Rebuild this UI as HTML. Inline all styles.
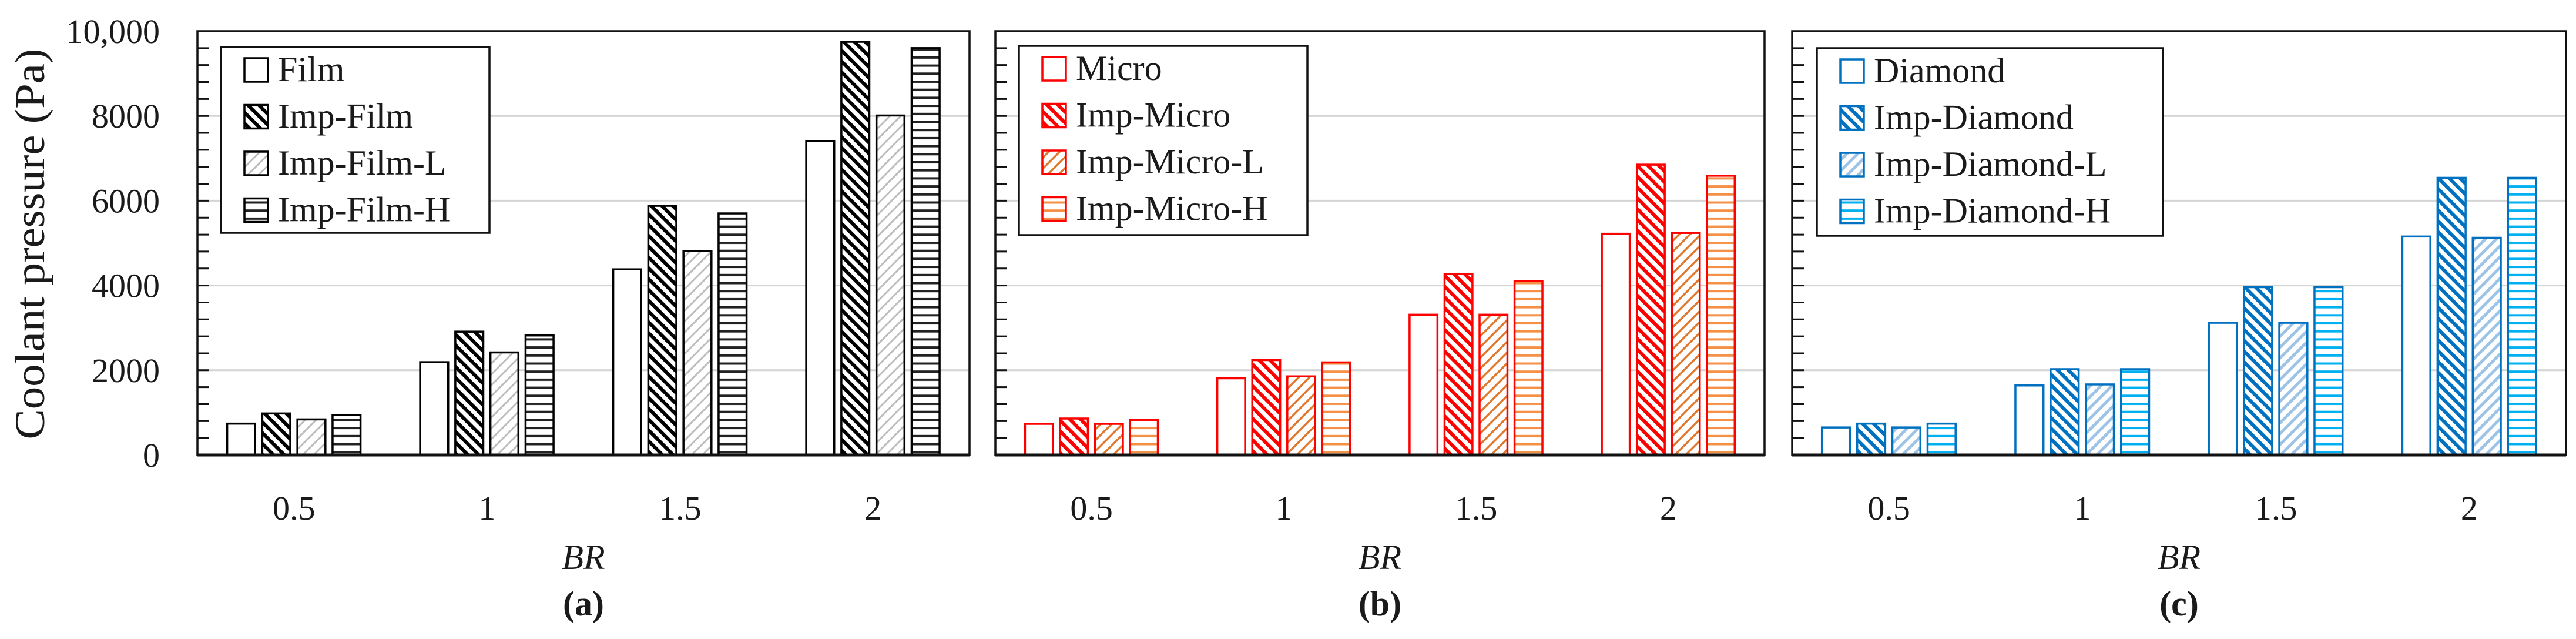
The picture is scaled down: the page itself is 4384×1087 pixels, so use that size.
<!DOCTYPE html>
<html><head><meta charset="utf-8"><style>
html,body{margin:0;padding:0;background:#fff;}
svg{display:block;}
text{font-family:"Liberation Serif",serif;fill:#1a1a1a;}
</style></head><body>
<svg id="chart" width="4384" height="1087" viewBox="0 0 4384 1087" xmlns="http://www.w3.org/2000/svg">
<defs>
  <pattern id="hatchK" patternUnits="userSpaceOnUse" width="13" height="13" patternTransform="rotate(-45)"><rect width="13" height="13" fill="#fff"/><rect width="6" height="13" fill="#000"/></pattern>
  <pattern id="lightK" patternUnits="userSpaceOnUse" width="13" height="13" patternTransform="rotate(45)"><rect width="13" height="13" fill="#fff"/><rect width="3" height="13" fill="#bdbdbd"/></pattern>
  <pattern id="horK" patternUnits="userSpaceOnUse" width="13" height="13.7"><rect width="13" height="13.7" fill="#fff"/><rect y="0" width="13" height="4" fill="#222"/></pattern>
  <pattern id="hatchR" patternUnits="userSpaceOnUse" width="13" height="13" patternTransform="rotate(-45)"><rect width="13" height="13" fill="#fff"/><rect width="6" height="13" fill="#ff0000"/></pattern>
  <pattern id="lightR" patternUnits="userSpaceOnUse" width="13" height="13" patternTransform="rotate(45)"><rect width="13" height="13" fill="#fff"/><rect width="3.5" height="13" fill="#e0782e"/></pattern>
  <pattern id="horR" patternUnits="userSpaceOnUse" width="13" height="13.7"><rect width="13" height="13.7" fill="#fff"/><rect width="13" height="4" fill="#f59047"/></pattern>
  <pattern id="hatchB" patternUnits="userSpaceOnUse" width="13" height="13" patternTransform="rotate(-45)"><rect width="13" height="13" fill="#fff"/><rect width="6" height="13" fill="#0070c0"/></pattern>
  <pattern id="lightB" patternUnits="userSpaceOnUse" width="13" height="13" patternTransform="rotate(45)"><rect width="13" height="13" fill="#fff"/><rect width="5" height="13" fill="#9dc3e6"/></pattern>
  <pattern id="horB" patternUnits="userSpaceOnUse" width="13" height="13.7"><rect width="13" height="13.7" fill="#fff"/><rect width="13" height="4" fill="#00b0f0"/></pattern>
</defs>
<g id="root"></g>
</svg>
<script>
const categories = ["0.5", "1", "1.5", "2"];
const yTicks = [0, 2000, 4000, 6000, 8000, 10000];
const yTickLabels = ["0", "2000", "4000", "6000", "8000", "10,000"];
const filmNames = ["Film", "Imp-Film", "Imp-Film-L", "Imp-Film-H"];
const microNames = ["Micro", "Imp-Micro", "Imp-Micro-L", "Imp-Micro-H"];
const diamondNames = ["Diamond", "Imp-Diamond", "Imp-Diamond-L", "Imp-Diamond-H"];
const film = [740, 2190, 4380, 7410];
const impFilm = [980, 2910, 5880, 9750];
const impFilmL = [840, 2420, 4810, 8010];
const impFilmH = [940, 2820, 5700, 9600];
const micro = [735, 1810, 3310, 5220];
const impMicro = [860, 2240, 4270, 6850];
const impMicroL = [735, 1855, 3310, 5240];
const impMicroH = [830, 2185, 4105, 6590];
const diamond = [650, 1640, 3120, 5155];
const impDiamond = [740, 2025, 3960, 6540];
const impDiamondL = [650, 1665, 3120, 5125];
const impDiamondH = [740, 2025, 3960, 6540];

const NS = "http://www.w3.org/2000/svg";
const root = document.getElementById("root");
function mk(tag, attrs, parent, txt) {
  const e = document.createElementNS(NS, tag);
  for (const k in attrs) e.setAttribute(k, attrs[k]);
  if (txt !== undefined) e.textContent = txt;
  (parent || root).appendChild(e);
  return e;
}
const Y0 = 774, Y1 = 53, YMAX = 10000;
function yScale(v) { return Y0 - (v / YMAX) * (Y0 - Y1); }

const panels = [
  { key: "a", x0: 336, x1: 1650, names: filmNames, series: [film, impFilm, impFilmL, impFilmH],
    stroke: ["#000", "#000", "#000", "#000"], fill: ["#fff", "url(#hatchK)", "url(#lightK)", "url(#horK)"],
    legend: { x: 376, y: 80, w: 457, h: 316 } },
  { key: "b", x0: 1694, x1: 3003, names: microNames, series: [micro, impMicro, impMicroL, impMicroH],
    stroke: ["#ff0000", "#ff0000", "#ff0000", "#ff0000"], fill: ["#fff", "url(#hatchR)", "url(#lightR)", "url(#horR)"],
    legend: { x: 1734, y: 78, w: 491, h: 322 } },
  { key: "c", x0: 3050, x1: 4367, names: diamondNames, series: [diamond, impDiamond, impDiamondL, impDiamondH],
    stroke: ["#0070c0", "#0070c0", "#0070c0", "#0070c0"], fill: ["#fff", "url(#hatchB)", "url(#lightB)", "url(#horB)"],
    legend: { x: 3092, y: 82, w: 589, h: 319 } }
];

panels.forEach(function (p) {
  const g = mk("g", {});
  
  
  const W = p.x1 - p.x0, cat = W / categories.length;
  function xCat(i) { return p.x0 + cat * i; }
  yTicks.forEach(function (t) {
    if (t === 0 || t === YMAX) return;
    const gl = mk("line", { x1: p.x0, x2: p.x1, y1: yScale(t), y2: yScale(t), stroke: "#d4d4d4", "stroke-width": 3 }, g);
    
    
  });
  for (let v = 0; v <= YMAX; v += 400) {
    const tk = mk("line", { x1: p.x0, x2: p.x0 + 20, y1: yScale(v), y2: yScale(v), stroke: "#111", "stroke-width": 3 }, g);
    
    
  }
  const bw = cat * 0.145, pitch = cat * 0.182, off = cat * 0.154;
  p.series.forEach(function (s, si) {
    s.forEach(function (v, ci) {
      const x = xCat(ci) + off + si * pitch;
      const b = mk("rect", { x: x, y: yScale(v), width: bw, height: Y0 - yScale(v), fill: p.fill[si], stroke: p.stroke[si], "stroke-width": 3.5 }, g);
      
      
    });
  });
  const fr = mk("rect", { x: p.x0, y: Y1, width: W, height: Y0 - Y1, fill: "none", stroke: "#111", "stroke-width": 3.5 }, g);
  
  
  const ax = mk("line", { x1: p.x0, x2: p.x1, y1: Y0, y2: Y0, stroke: "#111", "stroke-width": 5 }, g);
  
  
  categories.forEach(function (c, ci) {
    const t = mk("text", { x: xCat(ci) + cat / 2, y: 884, "font-size": 58, "text-anchor": "middle" }, g, c);
    
    
  });
  const xt = mk("text", { x: (p.x0 + p.x1) / 2, y: 968, "font-size": 60, "font-style": "italic", "text-anchor": "middle" }, g, "BR");
  
  
  const pl = mk("text", { x: (p.x0 + p.x1) / 2, y: 1047, "font-size": 60, "font-weight": "bold", "text-anchor": "middle" }, g, "(" + p.key + ")");
  
  
  const L = p.legend;
  const lg = mk("g", {}, g);
  
  
  mk("rect", { x: L.x, y: L.y, width: L.w, height: L.h, fill: "#fff", stroke: "#111", "stroke-width": 3.5 }, lg);
  p.names.forEach(function (n, i) {
    const cy = L.y + 38 + i * 79.5;
    const e = mk("g", {}, lg);
    
    
    mk("rect", { x: L.x + 40, y: cy - 19, width: 40, height: 40, fill: p.fill[i], stroke: p.stroke[i], "stroke-width": 3.5 }, e);
    mk("text", { x: L.x + 97, y: cy + 20, "font-size": 60 }, e, n);
  });
});

yTicks.forEach(function (t, i) {
  const tl = mk("text", { x: 272, y: yScale(t) + 20, "font-size": 58, "text-anchor": "end" }, root, yTickLabels[i]);
  
  
});
const yt = mk("text", { x: 0, y: 0, "font-size": 72, "text-anchor": "middle", transform: "translate(75,415) rotate(-90)", textLength: 665, lengthAdjust: "spacingAndGlyphs" }, root, "Coolant pressure (Pa)");


</script>
</body></html>
